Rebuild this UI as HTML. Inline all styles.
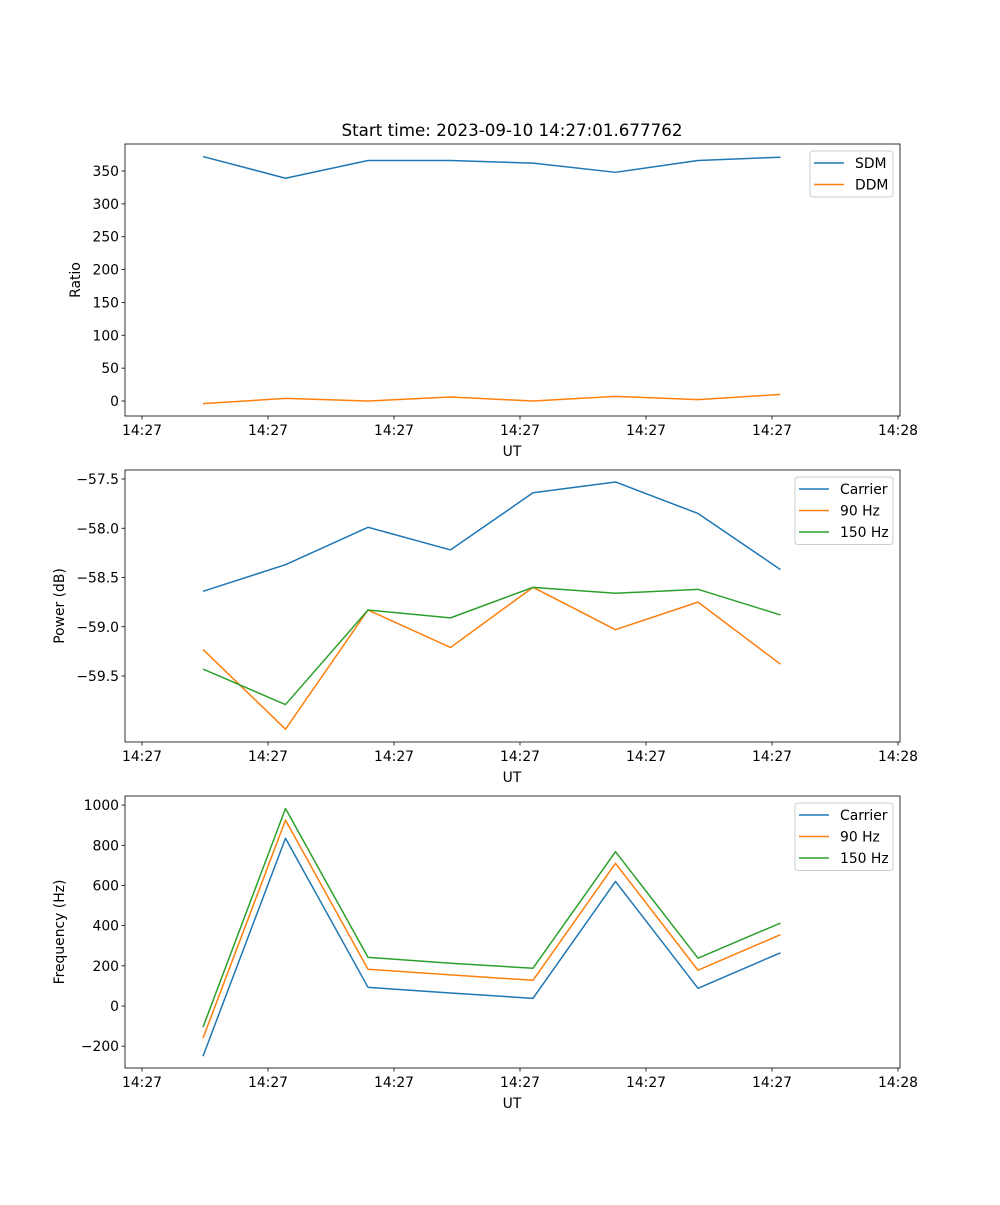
<!DOCTYPE html>
<html><head><meta charset="utf-8"><style>
body{margin:0;background:#fff}
svg text{font-family:"DejaVu Sans","Liberation Sans",sans-serif;font-size:13.9px;fill:#000}
</style></head><body>
<svg id="fig" width="1000" height="1200" xmlns="http://www.w3.org/2000/svg">
<rect width="1000" height="1200" fill="#fff"/>
<text x="512" y="136" text-anchor="middle" style="font-size:16.7px">Start time: 2023-09-10 14:27:01.677762</text>
</svg>
<script>
const xIndex=[0,1,2,3,4,5,6,7];
const xTickLabels=["14:27","14:27","14:27","14:27","14:27","14:27","14:28"];
const sdm=[372,339,366,366,362,348,366,371];
const ddm=[-4,4,0,6,0,7,2,10];
const pCarrier=[-58.64,-58.37,-57.99,-58.22,-57.64,-57.53,-57.85,-58.42];
const p90=[-59.23,-60.04,-58.83,-59.21,-58.60,-59.03,-58.75,-59.38];
const p150=[-59.43,-59.79,-58.83,-58.91,-58.60,-58.66,-58.62,-58.88];
const fCarrier=[-250,835,93,65,38,620,88,265];
const f90=[-160,925,183,155,128,710,178,355];
const f150=[-105,983,242,213,188,768,238,413];
const ratioTicks=[0,50,100,150,200,250,300,350];
const powerTicks=[-59.5,-59.0,-58.5,-58.0,-57.5];
const freqTicks=[-200,0,200,400,600,800,1000];

const NS="http://www.w3.org/2000/svg";
const svg=document.getElementById('fig');
function el(t,a,p){const e=document.createElementNS(NS,t);for(const k in a)e.setAttribute(k,a[k]);(p||svg).appendChild(e);return e;}
const L=125,R=900;
const xs=i=>203+i*82.5;
const tickXs=k=>142+k*126;
const C={blue:"#1f77b4",orange:"#ff7f0e",green:"#2ca02c"};

function panel(name,top,bot,yf,ticks,fmt,ylabel,series,legend){
  const g=el('g',{});
  
  
  ticks.forEach(v=>{
    const y=yf(v);
    el('line',{x1:L-3.5,x2:L,y1:y,y2:y,stroke:'#000','stroke-width':0.8},g);
    const t=el('text',{x:L-6,y:y+5,'text-anchor':'end'},g);t.textContent=fmt(v);
    
    
  });
  xTickLabels.forEach((s,k)=>{
    const x=tickXs(k);
    el('line',{x1:x,x2:x,y1:bot,y2:bot+3.5,stroke:'#000','stroke-width':0.8},g);
    const t=el('text',{x:x,y:bot+19,'text-anchor':'middle'},g);t.textContent=s;
    
    
  });
  const xl=el('text',{x:512,y:bot+40,'text-anchor':'middle'},g);xl.textContent='UT';
  
  
  const cy=(top+bot)/2;
  const yl=el('text',{x:0,y:0,'text-anchor':'middle',transform:`translate(${name==='ratio'?80:64},${cy}) rotate(-90)`},g);yl.textContent=ylabel;
  
  
  series.forEach(s=>{
    const pts=s.vals.map((v,i)=>xs(xIndex[i])+','+yf(v)).join(' ');
    const pl=el('polyline',{points:pts,fill:'none',stroke:s.c,'stroke-width':1.5,'stroke-linejoin':'round'},g);
    
    
  });
  el('rect',{x:L,y:top,width:R-L,height:bot-top,fill:'none',stroke:'#000','stroke-width':0.8},g);
  const lg=el('g',{},g);
  
  
  el('rect',{x:legend.x,y:top+7,width:R-7-legend.x,height:series.length*21.5+3,rx:3,fill:'#fff',stroke:'#ccc','stroke-width':1},lg);
  series.forEach((s,i)=>{
    const y=top+19+i*21.5;
    el('line',{x1:legend.x+4,x2:legend.x+34,y1:y,y2:y,stroke:s.c,'stroke-width':1.5},lg);
    const t=el('text',{x:legend.x+45,y:y+5},lg);t.textContent=s.n;
    
    
  });
}
panel('ratio',144,416,v=>401-v*230/350,ratioTicks,v=>String(v),'Ratio',
  [{n:'SDM',vals:sdm,c:C.blue},{n:'DDM',vals:ddm,c:C.orange}],{x:810});
panel('power',470,742,v=>479+(-57.5-v)*98.5,powerTicks,v=>'\u2212'+Math.abs(v).toFixed(1),'Power (dB)',
  [{n:'Carrier',vals:pCarrier,c:C.blue},{n:'90 Hz',vals:p90,c:C.orange},{n:'150 Hz',vals:p150,c:C.green}],{x:795});
panel('frequency',796,1068,v=>1006-v*0.2009,freqTicks,v=>v<0?'\u2212'+Math.abs(v):String(v),'Frequency (Hz)',
  [{n:'Carrier',vals:fCarrier,c:C.blue},{n:'90 Hz',vals:f90,c:C.orange},{n:'150 Hz',vals:f150,c:C.green}],{x:795});
</script>
</body></html>
